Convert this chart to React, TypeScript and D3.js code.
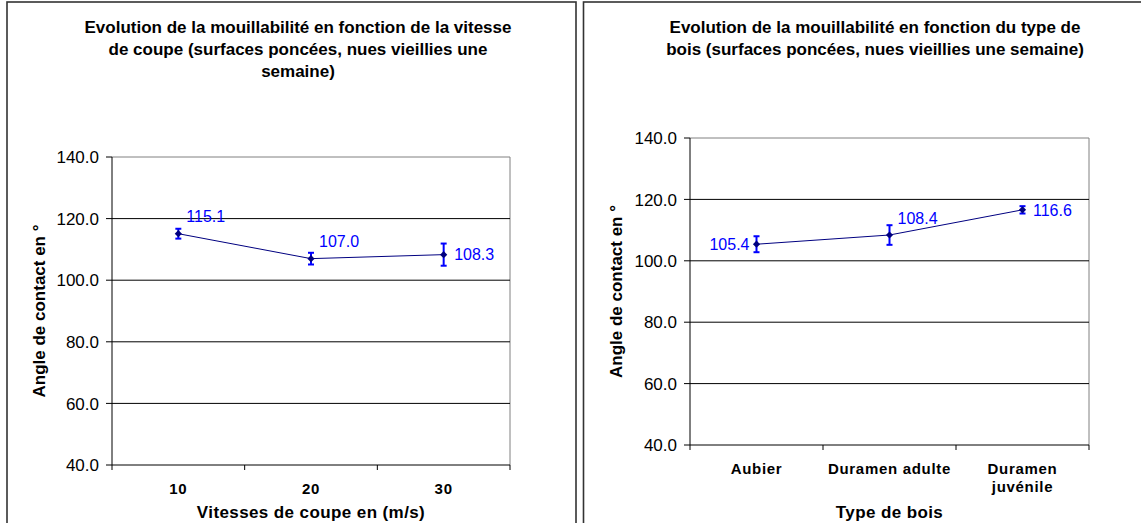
import React from 'react';
import * as d3 from 'd3';

// data
const speedCategories = ['10', '20', '30'];
const speedValues = [115.1, 107.0, 108.3];
const speedErrors = [1.6, 1.9, 3.6];

const woodCategories = ['Aubier', 'Duramen adulte', 'Duramen juvénile'];
const woodValues = [105.4, 108.4, 116.6];
const woodErrors = [2.6, 3.2, 1.2];

const yTicks = [40, 60, 80, 100, 120, 140];

const FONT = 'Liberation Sans, Arial, sans-serif';

type LabelPos = 'ur' | 'r' | 'l';

interface ChartProps {
  panel: { x: number; y: number; w: number; h: number };
  plot: { x0: number; x1: number; y0: number; y1: number };
  title: string[];
  titleX: number;
  xTitle: string;
  categories: string[];
  values: number[];
  errors: number[];
  labelPos: LabelPos[];
}

const wrapLabel = (s: string) => {
  if (s.length <= 14) return [s];
  const i = s.lastIndexOf(' ');
  return [s.slice(0, i), s.slice(i + 1)];
};

const Chart = (p: ChartProps) => {
  const { plot } = p;
  const x = d3.scaleBand<string>().domain(p.categories).range([plot.x0, plot.x1]).padding(0);
  const y = d3.scaleLinear().domain([40, 140]).range([plot.y1, plot.y0]);
  const cx = (i: number) => (x(p.categories[i]) as number) + x.bandwidth() / 2;
  const line = d3.line<number>().x((_, i) => cx(i)).y((d) => y(d));
  const marker = d3.symbol(d3.symbolSquare, 26)() as string;
  const midX = (plot.x0 + plot.x1) / 2;
  const midY = (plot.y0 + plot.y1) / 2;

  return (
    <g>
      <rect x={p.panel.x} y={p.panel.y} width={p.panel.w} height={p.panel.h} fill="#fff" stroke="#333" strokeWidth={1.6} />
      {p.title.map((t, i) => (
        <text key={i} x={p.titleX} y={33 + i * 22} textAnchor="middle" fontFamily={FONT} fontSize={17} fontWeight="bold" fill="#000">
          {t}
        </text>
      ))}
      {/* plot frame */}
      <line x1={plot.x0} x2={plot.x1} y1={plot.y0} y2={plot.y0} stroke="#808080" />
      <line x1={plot.x1} x2={plot.x1} y1={plot.y0} y2={plot.y1} stroke="#808080" />
      {yTicks.filter((t) => t > 40 && t < 140).map((t) => (
        <line key={t} x1={plot.x0} x2={plot.x1} y1={y(t)} y2={y(t)} stroke="#000" />
      ))}
      <line x1={plot.x0} x2={plot.x0} y1={plot.y0} y2={plot.y1} stroke="#000" />
      <line x1={plot.x0} x2={plot.x1} y1={plot.y1} y2={plot.y1} stroke="#000" />
      {yTicks.map((t) => (
        <g key={t}>
          <line x1={plot.x0 - 6} x2={plot.x0} y1={y(t)} y2={y(t)} stroke="#000" />
          <text x={plot.x0 - 13} y={y(t)} dy="0.36em" textAnchor="end" fontFamily={FONT} fontSize={17} fill="#000">
            {t.toFixed(1)}
          </text>
        </g>
      ))}
      {p.categories.map((c) => (
        <line key={c} x1={x(c) as number} x2={x(c) as number} y1={plot.y1} y2={plot.y1 + 5} stroke="#000" />
      ))}
      <line x1={plot.x1} x2={plot.x1} y1={plot.y1} y2={plot.y1 + 5} stroke="#000" />
      {p.categories.map((c, i) => (
        <text key={c} x={cx(i)} y={plot.y1 + 29} textAnchor="middle" fontFamily={FONT} fontSize={15} fontWeight="bold" letterSpacing={0.7} fill="#000">
          {wrapLabel(c).map((s, j) => (
            <tspan key={j} x={cx(i)} dy={j === 0 ? 0 : 18}>
              {s}
            </tspan>
          ))}
        </text>
      ))}
      <text x={midX} y={518} textAnchor="middle" fontFamily={FONT} fontSize={17} fontWeight="bold" letterSpacing={0.4} fill="#000">
        {p.xTitle}
      </text>
      <text
        transform={`translate(${p.panel.x + 38},${midY}) rotate(-90)`}
        textAnchor="middle"
        fontFamily={FONT}
        fontSize={17}
        fontWeight="bold"
        fill="#000"
      >
        Angle de contact en °
      </text>
      {/* series */}
      <path d={line(p.values) as string} fill="none" stroke="#000080" strokeWidth={1} />
      {p.values.map((v, i) => (
        <g key={i}>
          <line x1={cx(i)} x2={cx(i)} y1={y(v - p.errors[i])} y2={y(v + p.errors[i])} stroke="#0000ff" strokeWidth={2} />
          <line x1={cx(i) - 3} x2={cx(i) + 3} y1={y(v - p.errors[i])} y2={y(v - p.errors[i])} stroke="#0000ff" strokeWidth={2} />
          <line x1={cx(i) - 3} x2={cx(i) + 3} y1={y(v + p.errors[i])} y2={y(v + p.errors[i])} stroke="#0000ff" strokeWidth={2} />
          <path d={marker} transform={`translate(${cx(i)},${y(v)}) rotate(45)`} fill="#000080" />
        </g>
      ))}
      {p.values.map((v, i) => {
        const pos = p.labelPos[i];
        const lx = pos === 'l' ? cx(i) - 7 : pos === 'r' ? cx(i) + 10.5 : cx(i) + 8;
        const ly = pos === 'ur' ? y(v) - 17 : y(v);
        return (
          <text key={i} x={lx} y={ly} dy="0.36em" textAnchor={pos === 'l' ? 'end' : 'start'} fontFamily={FONT} fontSize={16} fill="#0000ff">
            {v.toFixed(1)}
          </text>
        );
      })}
    </g>
  );
};

export default function App() {
  return (
    <svg width={1141} height={523} style={{ position: 'absolute', left: 0, top: 0, background: '#fff' }}>
      <rect width={1141} height={523} fill="#fff" />
      <Chart
        panel={{ x: 7, y: 2, w: 569, h: 540 }}
        plot={{ x0: 112, x1: 510, y0: 157, y1: 465 }}
        title={[
          'Evolution de la mouillabilité en fonction de la vitesse',
          'de coupe (surfaces poncées, nues vieillies une',
          'semaine)',
        ]}
        titleX={298}
        xTitle="Vitesses de coupe en (m/s)"
        categories={speedCategories}
        values={speedValues}
        errors={speedErrors}
        labelPos={['ur', 'ur', 'r']}
      />
      <Chart
        panel={{ x: 583.5, y: 2, w: 570, h: 540 }}
        plot={{ x0: 690, x1: 1089, y0: 138, y1: 445 }}
        title={[
          'Evolution de la mouillabilité en fonction du type de',
          'bois (surfaces poncées, nues vieillies une semaine)',
        ]}
        titleX={875}
        xTitle="Type de bois"
        categories={woodCategories}
        values={woodValues}
        errors={woodErrors}
        labelPos={['l', 'ur', 'r']}
      />
    </svg>
  );
}
